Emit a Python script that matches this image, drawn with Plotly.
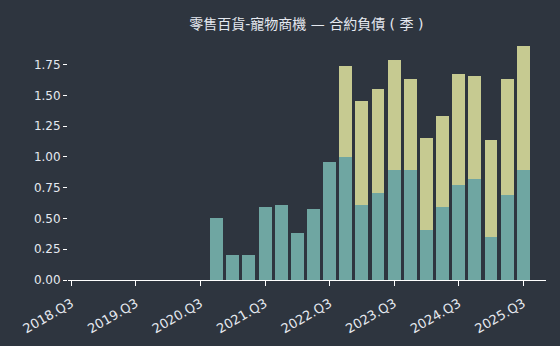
import plotly.graph_objects as go

quarters = ["2020.Q4", "2021.Q1", "2021.Q2", "2021.Q3", "2021.Q4",
            "2022.Q1", "2022.Q2", "2022.Q3", "2022.Q4",
            "2023.Q1", "2023.Q2", "2023.Q3", "2023.Q4",
            "2024.Q1", "2024.Q2", "2024.Q3", "2024.Q4",
            "2025.Q1", "2025.Q2", "2025.Q3"]
lower_vals = [0.50, 0.20, 0.20, 0.59, 0.61, 0.38, 0.58, 0.96, 1.00,
              0.61, 0.71, 0.89, 0.89, 0.41, 0.59, 0.77, 0.82, 0.35, 0.69, 0.89]
upper_vals = [0, 0, 0, 0, 0, 0, 0, 0, 0.74,
              0.84, 0.84, 0.90, 0.74, 0.74, 0.74, 0.90, 0.84, 0.79, 0.94, 1.01]
tick_labels = ["2018.Q3", "2019.Q3", "2020.Q3", "2021.Q3",
               "2022.Q3", "2023.Q3", "2024.Q3", "2025.Q3"]
y_ticks = [0.00, 0.25, 0.50, 0.75, 1.00, 1.25, 1.50, 1.75]


def qidx(label):
    y, q = label.split(".Q")
    return (int(y) - 2018) * 4 + (int(q) - 3)


xs = [qidx(q) for q in quarters]
tick_pos = [qidx(t) for t in tick_labels]

BG = "#2e353f"
TEAL = "#6fa6a2"
KHAKI = "#c6ca91"
TXT = "#e5e9f0"

fig = go.Figure()
fig.add_trace(go.Bar(x=xs, y=lower_vals, marker=dict(color=TEAL, line=dict(width=0)),
                     width=0.8, name="lower"))
fig.add_trace(go.Bar(x=xs, y=upper_vals, marker=dict(color=KHAKI, line=dict(width=0)),
                     width=0.8, name="upper"))

fig.update_layout(
    barmode="stack",
    width=560, height=346,
    paper_bgcolor=BG, plot_bgcolor=BG,
    margin=dict(l=68, r=14, t=35, b=66),
    showlegend=False,
    font=dict(family="DejaVu Sans, Noto Sans CJK TC", size=12, color=TXT),
    title=dict(text="零售百貨-寵物商機 — 合約負債 ( 季 )",
               x=0.547, xanchor="center", y=1 - 24 / 346, yanchor="middle",
               font=dict(size=14, color=TXT,
                         family="DejaVu Sans, Noto Sans CJK TC")),
)
fig.update_xaxes(
    range=[-0.21, 29.41], automargin=False,
    tickmode="array", tickvals=tick_pos, ticktext=tick_labels,
    tickangle=-30, ticks="outside", ticklen=5, tickcolor="white", tickwidth=1,
    ticklabelstandoff=5,
    showline=True, linecolor="white", linewidth=1.2,
    showgrid=False, zeroline=False,
    tickfont=dict(size=13, color=TXT),
)
fig.update_yaxes(
    range=[0, 1.99], automargin=False,
    tickmode="array", tickvals=y_ticks,
    ticktext=[f"{v:.2f}" for v in y_ticks],
    ticks="outside", ticklen=4, tickcolor="white", tickwidth=1,
    showline=False, showgrid=False, zeroline=False,
    tickfont=dict(size=12, color=TXT),
)

fig.write_html("out.html")
